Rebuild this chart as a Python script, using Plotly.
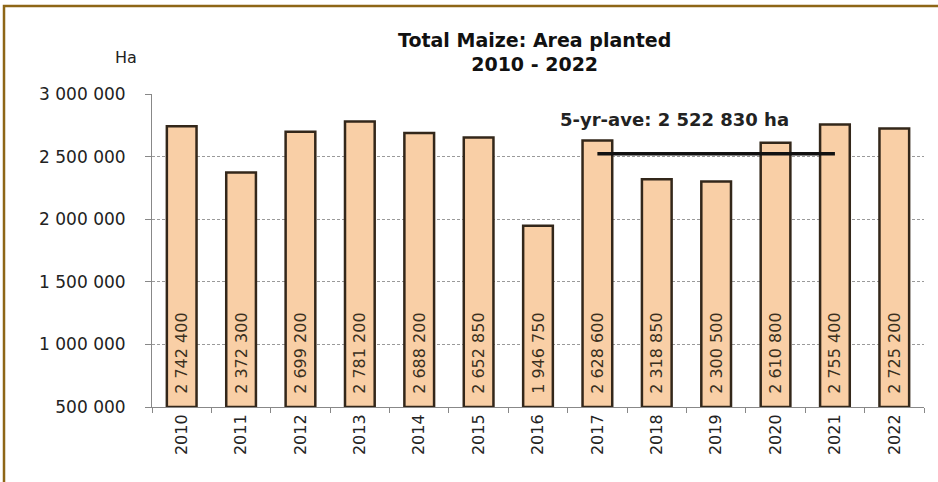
import plotly.graph_objects as go

years = ["2010", "2011", "2012", "2013", "2014", "2015", "2016", "2017", "2018", "2019", "2020", "2021", "2022"]
area = [2742400, 2372300, 2699200, 2781200, 2688200, 2652850, 1946750, 2628600, 2318850, 2300500, 2610800, 2755400, 2725200]
ave_years = ["2017", "2021"]
ave_value = 2522830
axis_floor = 500000
ytick_vals = [500000, 1000000, 1500000, 2000000, 2500000, 3000000]

def fmt(v):
    return f"{v:,}".replace(",", " ")

FONT = "DejaVu Sans"

fig = go.Figure()
fig.add_trace(go.Bar(
    x=years, y=[v - axis_floor for v in area], base=axis_floor, width=0.5,
    marker=dict(color="#F9CFA6", line=dict(color="#33271A", width=2.5)),
    text=["\u00a0\u00a0" + fmt(v) for v in area], textposition="inside", insidetextanchor="start",
    textangle=-90, textfont=dict(family=FONT, size=16, color="#3a3020"),
    customdata=area, hovertemplate="%{x}: %{customdata}<extra></extra>", showlegend=False,
))
fig.add_trace(go.Scatter(
    x=ave_years, y=[ave_value, ave_value], mode="lines",
    line=dict(color="#111111", width=3.5), showlegend=False, hoverinfo="skip",
))

fig.update_layout(
    width=938, height=482,
    margin=dict(l=152, r=14, t=94, b=75),
    paper_bgcolor="white", plot_bgcolor="white",
    title=dict(text="<b>Total Maize: Area planted<br>2010 - 2022</b>", xref="container", x=0.570,
               xanchor="center", yref="container", y=0.903, yanchor="top",
               font=dict(family=FONT, size=19, color="#111111")),
    xaxis=dict(type="category", tickangle=-90, tickfont=dict(family=FONT, size=16, color="#222222"),
               showline=True, linecolor="#888888", linewidth=1, ticks="outside", tickson="boundaries",
               ticklen=5, tickcolor="#888888", showgrid=False, automargin=False),
    yaxis=dict(range=[500000, 3000000], tickvals=ytick_vals, ticktext=[fmt(v) for v in ytick_vals],
               tickfont=dict(family=FONT, size=17, color="#222222"), ticklabelstandoff=16,
               showline=True, linecolor="#888888", linewidth=1, ticks="outside", ticklen=6,
               tickcolor="#888888", showgrid=True, gridcolor="#9a9a9a", griddash="3px,2px", gridwidth=1,
               zeroline=False, automargin=False),
    shapes=[dict(type="rect", xref="paper", yref="paper", x0=-0.1917, x1=1.03, y0=-0.27, y1=1.281,
                 line=dict(color="#8E6616", width=2.5), fillcolor="rgba(0,0,0,0)", layer="below")],
    annotations=[
        dict(text="Ha", xref="paper", yref="paper", x=-0.0337, y=1.118, xanchor="center", yanchor="middle",
             showarrow=False, font=dict(family=FONT, size=16, color="#222222")),
        dict(text="<b>5-yr-ave: 2 522 830 ha</b>", xref="paper", yref="y", x=0.526, y=2800000,
             xanchor="left", yanchor="middle", showarrow=False,
             font=dict(family=FONT, size=18, color="#222222")),
    ],
)

fig.write_html("out.html", config={"displayModeBar": False},
               post_script="document.body.style.margin='0';document.body.style.overflow='hidden';")
